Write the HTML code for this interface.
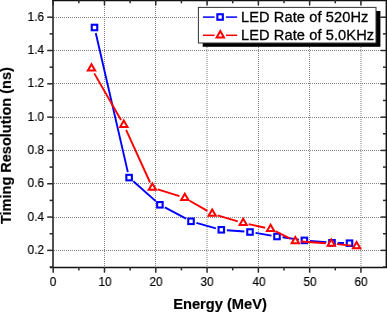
<!DOCTYPE html>
<html><head><meta charset="utf-8"><title>plot</title>
<style>
html,body{margin:0;padding:0;background:#fff;}
body{width:387px;height:312px;position:relative;overflow:hidden;font-family:"Liberation Sans",sans-serif;color:#111;}
.xl{position:absolute;top:274.0px;will-change:transform;transform:scaleX(0.925);transform-origin:50% 50%;-webkit-text-stroke:0.2px #000;color:#000;width:40px;text-align:center;font-size:12.7px;line-height:16px;height:16px;}
.yl{position:absolute;left:4px;will-change:transform;transform:scaleX(0.925);transform-origin:100% 50%;-webkit-text-stroke:0.2px #000;color:#000;width:40px;text-align:right;font-size:12.7px;line-height:16px;height:16px;}
.lg{position:absolute;will-change:transform;left:241.4px;font-size:14.6px;letter-spacing:0.1px;line-height:17px;height:17px;white-space:nowrap;color:#000;-webkit-text-stroke:0.3px #000;}
.xt{position:absolute;will-change:transform;left:119.7px;width:200px;text-align:center;top:294.8px;-webkit-text-stroke:0.2px #000;font-size:14.66px;font-weight:bold;line-height:18px;white-space:nowrap;color:#000;}
.yt{position:absolute;left:0;top:0;width:0;height:0;}
.yt span{position:absolute;will-change:transform;display:block;white-space:nowrap;font-size:14.5px;font-weight:bold;line-height:1;color:#000;-webkit-text-stroke:0.2px #000;transform-origin:0 0;transform:translate(-1.1px,224px) rotate(-90deg);}
</style></head><body>
<svg width="387" height="312" viewBox="0 0 387 312" style="position:absolute;left:0;top:0">
<rect width="387" height="312" fill="#fff"/>
<g stroke="#858585" stroke-width="1" stroke-dasharray="1 1" fill="none">
<line x1="104.5" y1="1" x2="104.5" y2="267"/>
<line x1="155.5" y1="1" x2="155.5" y2="267"/>
<line x1="207.0" y1="1" x2="207.0" y2="267"/>
<line x1="258.5" y1="1" x2="258.5" y2="267"/>
<line x1="309.5" y1="1" x2="309.5" y2="267"/>
<line x1="361.0" y1="1" x2="361.0" y2="267"/>
<line x1="54" y1="250.5" x2="385" y2="250.5"/>
<line x1="54" y1="217.5" x2="385" y2="217.5"/>
<line x1="54" y1="183.5" x2="385" y2="183.5"/>
<line x1="54" y1="150.5" x2="385" y2="150.5"/>
<line x1="54" y1="117.5" x2="385" y2="117.5"/>
<line x1="54" y1="83.5" x2="385" y2="83.5"/>
<line x1="54" y1="50.5" x2="385" y2="50.5"/>
<line x1="54" y1="17.5" x2="385" y2="17.5"/>
</g>
<line x1="95.76" y1="32.96" x2="127.84" y2="172.14" stroke="#0000ff" stroke-width="1.9"/>
<line x1="133.30" y1="181.31" x2="155.70" y2="201.09" stroke="#0000ff" stroke-width="1.9"/>
<line x1="164.85" y1="207.42" x2="186.05" y2="218.68" stroke="#0000ff" stroke-width="1.9"/>
<line x1="196.39" y1="222.81" x2="215.91" y2="228.29" stroke="#0000ff" stroke-width="1.9"/>
<line x1="226.88" y1="230.23" x2="244.42" y2="231.57" stroke="#0000ff" stroke-width="1.9"/>
<line x1="255.52" y1="232.92" x2="271.48" y2="235.58" stroke="#0000ff" stroke-width="1.9"/>
<line x1="282.54" y1="237.29" x2="298.86" y2="239.61" stroke="#0000ff" stroke-width="1.9"/>
<line x1="309.98" y1="240.89" x2="326.42" y2="242.31" stroke="#0000ff" stroke-width="1.9"/>
<line x1="337.60" y1="242.93" x2="343.90" y2="243.07" stroke="#0000ff" stroke-width="1.9"/>
<rect x="91.75" y="24.75" width="5.5" height="5.5" fill="#fff" stroke="#0000ff" stroke-width="2.1"/>
<rect x="126.35" y="174.85" width="5.5" height="5.5" fill="#fff" stroke="#0000ff" stroke-width="2.1"/>
<rect x="157.15" y="202.05" width="5.5" height="5.5" fill="#fff" stroke="#0000ff" stroke-width="2.1"/>
<rect x="188.25" y="218.55" width="5.5" height="5.5" fill="#fff" stroke="#0000ff" stroke-width="2.1"/>
<rect x="218.55" y="227.05" width="5.5" height="5.5" fill="#fff" stroke="#0000ff" stroke-width="2.1"/>
<rect x="247.25" y="229.25" width="5.5" height="5.5" fill="#fff" stroke="#0000ff" stroke-width="2.1"/>
<rect x="274.25" y="233.75" width="5.5" height="5.5" fill="#fff" stroke="#0000ff" stroke-width="2.1"/>
<rect x="301.65" y="237.65" width="5.5" height="5.5" fill="#fff" stroke="#0000ff" stroke-width="2.1"/>
<rect x="329.25" y="240.05" width="5.5" height="5.5" fill="#fff" stroke="#0000ff" stroke-width="2.1"/>
<rect x="346.75" y="240.45" width="5.5" height="5.5" fill="#fff" stroke="#0000ff" stroke-width="2.1"/>
<line x1="94.29" y1="73.36" x2="121.01" y2="119.94" stroke="#ff0000" stroke-width="1.9"/>
<line x1="126.12" y1="129.90" x2="150.08" y2="182.50" stroke="#ff0000" stroke-width="1.9"/>
<line x1="157.74" y1="189.30" x2="179.46" y2="196.20" stroke="#ff0000" stroke-width="1.9"/>
<line x1="189.65" y1="200.70" x2="207.35" y2="210.90" stroke="#ff0000" stroke-width="1.9"/>
<line x1="217.57" y1="215.29" x2="237.83" y2="221.31" stroke="#ff0000" stroke-width="1.9"/>
<line x1="248.67" y1="224.10" x2="265.13" y2="227.70" stroke="#ff0000" stroke-width="1.9"/>
<line x1="275.61" y1="231.40" x2="290.29" y2="238.70" stroke="#ff0000" stroke-width="1.9"/>
<line x1="300.89" y1="241.57" x2="325.71" y2="243.23" stroke="#ff0000" stroke-width="1.9"/>
<line x1="336.87" y1="244.17" x2="351.03" y2="245.63" stroke="#ff0000" stroke-width="1.9"/>
<polygon points="91.50,64.30 95.15,70.60 87.85,70.60" fill="#fff" stroke="#ff0000" stroke-width="2.0" stroke-linejoin="miter"/>
<polygon points="123.80,120.60 127.45,126.90 120.15,126.90" fill="#fff" stroke="#ff0000" stroke-width="2.0" stroke-linejoin="miter"/>
<polygon points="152.40,183.40 156.05,189.70 148.75,189.70" fill="#fff" stroke="#ff0000" stroke-width="2.0" stroke-linejoin="miter"/>
<polygon points="184.80,193.70 188.45,200.00 181.15,200.00" fill="#fff" stroke="#ff0000" stroke-width="2.0" stroke-linejoin="miter"/>
<polygon points="212.20,209.50 215.85,215.80 208.55,215.80" fill="#fff" stroke="#ff0000" stroke-width="2.0" stroke-linejoin="miter"/>
<polygon points="243.20,218.70 246.85,225.00 239.55,225.00" fill="#fff" stroke="#ff0000" stroke-width="2.0" stroke-linejoin="miter"/>
<polygon points="270.60,224.70 274.25,231.00 266.95,231.00" fill="#fff" stroke="#ff0000" stroke-width="2.0" stroke-linejoin="miter"/>
<polygon points="295.30,237.00 298.95,243.30 291.65,243.30" fill="#fff" stroke="#ff0000" stroke-width="2.0" stroke-linejoin="miter"/>
<polygon points="331.30,239.40 334.95,245.70 327.65,245.70" fill="#fff" stroke="#ff0000" stroke-width="2.0" stroke-linejoin="miter"/>
<polygon points="356.60,242.00 360.25,248.30 352.95,248.30" fill="#fff" stroke="#ff0000" stroke-width="2.0" stroke-linejoin="miter"/>
<g stroke="#2a2a2a" fill="none">
<line x1="53" y1="0" x2="53" y2="268.1" stroke-width="2" stroke="#505050"/>
<line x1="386.4" y1="0" x2="386.4" y2="268.1" stroke-width="1.6" stroke="#111"/>
<line x1="50" y1="267.45" x2="387" y2="267.45" stroke-width="1.4" stroke="#111"/>
<line x1="52" y1="0.6" x2="387" y2="0.6" stroke-width="1.4" stroke="#111"/>
<line x1="53.20" y1="267" x2="53.20" y2="272.7" stroke-width="1.5"/>
<line x1="53.20" y1="0" x2="53.20" y2="5.3" stroke-width="1.5"/>
<line x1="78.84" y1="267" x2="78.84" y2="270.4" stroke-width="1.5"/>
<line x1="78.84" y1="0" x2="78.84" y2="3.3" stroke-width="1.5"/>
<line x1="104.49" y1="267" x2="104.49" y2="272.7" stroke-width="1.5"/>
<line x1="104.49" y1="0" x2="104.49" y2="5.3" stroke-width="1.5"/>
<line x1="130.13" y1="267" x2="130.13" y2="270.4" stroke-width="1.5"/>
<line x1="130.13" y1="0" x2="130.13" y2="3.3" stroke-width="1.5"/>
<line x1="155.78" y1="267" x2="155.78" y2="272.7" stroke-width="1.5"/>
<line x1="155.78" y1="0" x2="155.78" y2="5.3" stroke-width="1.5"/>
<line x1="181.43" y1="267" x2="181.43" y2="270.4" stroke-width="1.5"/>
<line x1="181.43" y1="0" x2="181.43" y2="3.3" stroke-width="1.5"/>
<line x1="207.07" y1="267" x2="207.07" y2="272.7" stroke-width="1.5"/>
<line x1="207.07" y1="0" x2="207.07" y2="5.3" stroke-width="1.5"/>
<line x1="232.71" y1="267" x2="232.71" y2="270.4" stroke-width="1.5"/>
<line x1="232.71" y1="0" x2="232.71" y2="3.3" stroke-width="1.5"/>
<line x1="258.36" y1="267" x2="258.36" y2="272.7" stroke-width="1.5"/>
<line x1="258.36" y1="0" x2="258.36" y2="5.3" stroke-width="1.5"/>
<line x1="284.00" y1="267" x2="284.00" y2="270.4" stroke-width="1.5"/>
<line x1="284.00" y1="0" x2="284.00" y2="3.3" stroke-width="1.5"/>
<line x1="309.65" y1="267" x2="309.65" y2="272.7" stroke-width="1.5"/>
<line x1="309.65" y1="0" x2="309.65" y2="5.3" stroke-width="1.5"/>
<line x1="335.29" y1="267" x2="335.29" y2="270.4" stroke-width="1.5"/>
<line x1="335.29" y1="0" x2="335.29" y2="3.3" stroke-width="1.5"/>
<line x1="360.94" y1="267" x2="360.94" y2="272.7" stroke-width="1.5"/>
<line x1="360.94" y1="0" x2="360.94" y2="5.3" stroke-width="1.5"/>
<line x1="49.6" y1="267.03" x2="53" y2="267.03" stroke-width="1.5"/>
<line x1="383" y1="267.03" x2="386" y2="267.03" stroke-width="1.5"/>
<line x1="47.2" y1="250.37" x2="53" y2="250.37" stroke-width="1.5"/>
<line x1="380.6" y1="250.37" x2="386" y2="250.37" stroke-width="1.5"/>
<line x1="49.6" y1="233.72" x2="53" y2="233.72" stroke-width="1.5"/>
<line x1="383" y1="233.72" x2="386" y2="233.72" stroke-width="1.5"/>
<line x1="47.2" y1="217.06" x2="53" y2="217.06" stroke-width="1.5"/>
<line x1="380.6" y1="217.06" x2="386" y2="217.06" stroke-width="1.5"/>
<line x1="49.6" y1="200.41" x2="53" y2="200.41" stroke-width="1.5"/>
<line x1="383" y1="200.41" x2="386" y2="200.41" stroke-width="1.5"/>
<line x1="47.2" y1="183.75" x2="53" y2="183.75" stroke-width="1.5"/>
<line x1="380.6" y1="183.75" x2="386" y2="183.75" stroke-width="1.5"/>
<line x1="49.6" y1="167.09" x2="53" y2="167.09" stroke-width="1.5"/>
<line x1="383" y1="167.09" x2="386" y2="167.09" stroke-width="1.5"/>
<line x1="47.2" y1="150.44" x2="53" y2="150.44" stroke-width="1.5"/>
<line x1="380.6" y1="150.44" x2="386" y2="150.44" stroke-width="1.5"/>
<line x1="49.6" y1="133.78" x2="53" y2="133.78" stroke-width="1.5"/>
<line x1="383" y1="133.78" x2="386" y2="133.78" stroke-width="1.5"/>
<line x1="47.2" y1="117.13" x2="53" y2="117.13" stroke-width="1.5"/>
<line x1="380.6" y1="117.13" x2="386" y2="117.13" stroke-width="1.5"/>
<line x1="49.6" y1="100.48" x2="53" y2="100.48" stroke-width="1.5"/>
<line x1="383" y1="100.48" x2="386" y2="100.48" stroke-width="1.5"/>
<line x1="47.2" y1="83.82" x2="53" y2="83.82" stroke-width="1.5"/>
<line x1="380.6" y1="83.82" x2="386" y2="83.82" stroke-width="1.5"/>
<line x1="49.6" y1="67.17" x2="53" y2="67.17" stroke-width="1.5"/>
<line x1="383" y1="67.17" x2="386" y2="67.17" stroke-width="1.5"/>
<line x1="47.2" y1="50.51" x2="53" y2="50.51" stroke-width="1.5"/>
<line x1="380.6" y1="50.51" x2="386" y2="50.51" stroke-width="1.5"/>
<line x1="49.6" y1="33.86" x2="53" y2="33.86" stroke-width="1.5"/>
<line x1="383" y1="33.86" x2="386" y2="33.86" stroke-width="1.5"/>
<line x1="47.2" y1="17.20" x2="53" y2="17.20" stroke-width="1.5"/>
<line x1="380.6" y1="17.20" x2="386" y2="17.20" stroke-width="1.5"/>
</g>
<rect x="202.7" y="11" width="177.7" height="35.8" fill="#000"/>
<rect x="198.4" y="7.4" width="177.6" height="35.6" fill="#fff" stroke="#333" stroke-width="1"/>
<line x1="203" y1="17.1" x2="214.6" y2="17.1" stroke="#0000ff" stroke-width="1.5"/>
<line x1="225.9" y1="17.1" x2="237.1" y2="17.1" stroke="#0000ff" stroke-width="1.5"/>
<line x1="203" y1="35.3" x2="214.6" y2="35.3" stroke="#ff0000" stroke-width="1.5"/>
<line x1="225.9" y1="35.3" x2="237.1" y2="35.3" stroke="#ff0000" stroke-width="1.5"/>
<rect x="217.35" y="14.25" width="5.5" height="5.5" fill="#fff" stroke="#0000ff" stroke-width="2.1"/>
<polygon points="220.30,31.10 223.95,37.40 216.65,37.40" fill="#fff" stroke="#ff0000" stroke-width="2.0" stroke-linejoin="miter"/>
</svg>
<div class="xl" style="left:33.40px">0</div><div class="xl" style="left:84.69px">10</div><div class="xl" style="left:135.98px">20</div><div class="xl" style="left:187.27px">30</div><div class="xl" style="left:238.56px">40</div><div class="xl" style="left:289.85px">50</div><div class="xl" style="left:341.14px">60</div><div class="yl" style="top:242.02px">0.2</div><div class="yl" style="top:208.71px">0.4</div><div class="yl" style="top:175.40px">0.6</div><div class="yl" style="top:142.09px">0.8</div><div class="yl" style="top:108.78px">1.0</div><div class="yl" style="top:75.47px">1.2</div><div class="yl" style="top:42.16px">1.4</div><div class="yl" style="top:8.85px">1.6</div>
<div class="lg" style="top:9.4px">LED Rate of 520Hz</div>
<div class="lg" style="top:27.3px">LED Rate of 5.0KHz</div>
<div class="xt">Energy (MeV)</div>
<div class="yt"><span>Timing Resolution (ns)</span></div>
</body></html>
